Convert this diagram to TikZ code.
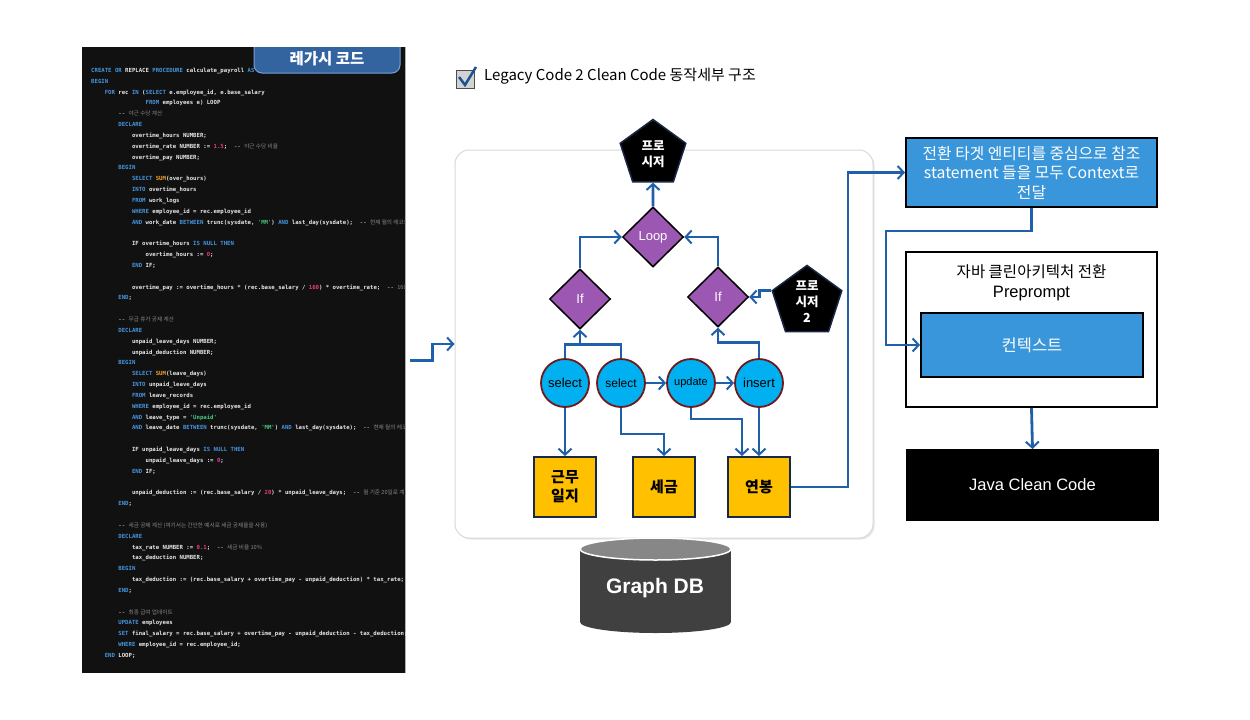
\documentclass[tikz,border=0pt]{standalone}
\usepackage{fontspec}
\setmainfont{Liberation Sans}
\newfontfamily\kr{Noto Sans CJK KR}
\newfontfamily\codefont{DejaVu Sans Mono}
\usetikzlibrary{arrows.meta,calc,shapes.geometric,shadows}

\definecolor{flowblue}{RGB}{32,96,170}
\definecolor{codebg}{RGB}{17,17,17}
\definecolor{codefg}{RGB}{232,232,232}
\definecolor{kwblue}{RGB}{70,150,225}
\definecolor{numpink}{RGB}{235,60,130}
\definecolor{strgreen}{RGB}{70,200,130}
\definecolor{funorange}{RGB}{240,165,40}
\definecolor{comgray}{RGB}{135,135,135}
\definecolor{tabblue}{RGB}{52,100,160}
\definecolor{tabedge}{RGB}{120,160,210}
\definecolor{diapurple}{RGB}{155,87,178}
\definecolor{opcyan}{RGB}{0,176,240}
\definecolor{opring}{RGB}{110,25,30}
\definecolor{tblyellow}{RGB}{255,192,0}
\definecolor{tblline}{RGB}{25,40,70}
\definecolor{boxblue}{RGB}{58,150,218}
\definecolor{framegray}{RGB}{218,218,218}
\definecolor{dbtop}{RGB}{135,135,135}
\definecolor{dbbody}{RGB}{64,64,64}

% code colouring
\newcommand\ckw[1]{\textcolor{kwblue}{#1}}
\newcommand\cnum[1]{\textcolor{numpink}{#1}}
\newcommand\cstr[1]{\textcolor{strgreen}{#1}}
\newcommand\cfun[1]{\textcolor{funorange}{#1}}
\newcommand\ccom[1]{\textcolor{comgray}{-\kern0pt- {\kr\mdseries #1}}}
\newlength\indw
\setlength\indw{13.6pt}
\newcommand\cind[1]{\hspace*{#1\indw}}

\tikzset{
  flow/.style={draw=flowblue, line width=2.8pt, -{Straight Barb[length=6pt,width=13pt,line width=2pt]}},
  link/.style={draw=flowblue, line width=2.8pt},
  proc/.style={regular polygon, regular polygon sides=5, minimum size=69pt, inner sep=0pt,
    fill=black, draw=tblline, line width=1.5pt, text=white, align=center,
    font=\kr\bfseries\fontsize{12.5}{16}\selectfont},
  cond/.style={diamond, minimum width=61pt, minimum height=60pt, inner sep=0pt,
    fill=diapurple, draw=black, line width=1.5pt, text=white, font=\fontsize{13}{15}\selectfont},
  op/.style={circle, minimum size=48pt, inner sep=0pt, fill=opcyan, draw=opring, line width=1.8pt},
  tbl/.style={rectangle, minimum width=62pt, minimum height=60pt, fill=tblyellow, draw=tblline,
    line width=2pt, align=center, font=\kr\bfseries\fontsize{15}{19}\selectfont},
  stage/.style={rectangle, draw=black, line width=2pt, minimum width=251pt},
  codetext/.style={text=codefg, align=left, inner sep=0pt,
    font=\codefont\bfseries\fontsize{5.65}{10.83}\selectfont},
}

\begin{document}
\begin{tikzpicture}[x=1pt, y=-1pt]
  \useasboundingbox[fill=white] (0,0) rectangle (1250,720);

  % Legacy code panel
  \node[fill=codebg, minimum width=323pt, minimum height=626pt, inner sep=0pt, anchor=north west] (codebox) at (82,47) {};
  \draw[gray!60] (codebox.north east) -- (codebox.south east);
  \begin{scope}
    \clip (codebox.north west) rectangle (codebox.south east);
    \filldraw[fill=tabblue, draw=tabedge, line width=1pt, rounded corners=8pt] (254,30) rectangle (400,73);
    \node[text=white, font=\kr\bfseries\fontsize{15.5}{17}\selectfont] (legacy) at (327,59) {레가시 코드};
    \node[codetext, anchor=north west] (listing) at (91,68) {%
\ckw{CREATE OR} REPLACE \ckw{PROCEDURE} calculate\_payroll \ckw{AS}\\
\ckw{BEGIN}\\
\cind{1}\ckw{FOR} rec \ckw{IN} (\ckw{SELECT} e.employee\_id, e.base\_salary\\
\cind{4}\ckw{FROM} employees e) LOOP\\
\cind{2}\ccom{야근 수당 계산}\\
\cind{2}\ckw{DECLARE}\\
\cind{3}overtime\_hours NUMBER;\\
\cind{3}overtime\_rate NUMBER := \cnum{1.5};\ \ \ccom{야근 수당 비율}\\
\cind{3}overtime\_pay NUMBER;\\
\cind{2}\ckw{BEGIN}\\
\cind{3}\ckw{SELECT} \cfun{SUM}(over\_hours)\\
\cind{3}\ckw{INTO} overtime\_hours\\
\cind{3}\ckw{FROM} work\_logs\\
\cind{3}\ckw{WHERE} employee\_id = rec.employee\_id\\
\cind{3}\ckw{AND} work\_date \ckw{BETWEEN} trunc(sysdate, \cstr{'MM'}) \ckw{AND} last\_day(sysdate);\ \ \ccom{현재 월의 레코드}\\[10.83pt]
\cind{3}IF overtime\_hours \ckw{IS NULL THEN}\\
\cind{4}overtime\_hours := \cnum{0};\\
\cind{3}\ckw{END} IF;\\[10.83pt]
\cind{3}overtime\_pay := overtime\_hours * (rec.base\_salary / \cnum{160}) * overtime\_rate;\ \ \ccom{160시간 기준}\\
\cind{2}\ckw{END};\\[10.83pt]
\cind{2}\ccom{무급 휴가 공제 계산}\\
\cind{2}\ckw{DECLARE}\\
\cind{3}unpaid\_leave\_days NUMBER;\\
\cind{3}unpaid\_deduction NUMBER;\\
\cind{2}\ckw{BEGIN}\\
\cind{3}\ckw{SELECT} \cfun{SUM}(leave\_days)\\
\cind{3}\ckw{INTO} unpaid\_leave\_days\\
\cind{3}\ckw{FROM} leave\_records\\
\cind{3}\ckw{WHERE} employee\_id = rec.employee\_id\\
\cind{3}\ckw{AND} leave\_type = \cstr{'Unpaid'}\\
\cind{3}\ckw{AND} leave\_date \ckw{BETWEEN} trunc(sysdate, \cstr{'MM'}) \ckw{AND} last\_day(sysdate);\ \ \ccom{현재 월의 레코드}\\[10.83pt]
\cind{3}IF unpaid\_leave\_days \ckw{IS NULL THEN}\\
\cind{4}unpaid\_leave\_days := \cnum{0};\\
\cind{3}\ckw{END} IF;\\[10.83pt]
\cind{3}unpaid\_deduction := (rec.base\_salary / \cnum{20}) * unpaid\_leave\_days;\ \ \ccom{월 기준 20일로 계산}\\
\cind{2}\ckw{END};\\[10.83pt]
\cind{2}\ccom{세금 공제 계산 (여기서는 간단한 예시로 세금 공제율을 사용)}\\
\cind{2}\ckw{DECLARE}\\
\cind{3}tax\_rate NUMBER := \cnum{0.1};\ \ \ccom{세금 비율 10\%}\\
\cind{3}tax\_deduction NUMBER;\\
\cind{2}\ckw{BEGIN}\\
\cind{3}tax\_deduction := (rec.base\_salary + overtime\_pay - unpaid\_deduction) * tax\_rate;\\
\cind{2}\ckw{END};\\[10.83pt]
\cind{2}\ccom{최종 급여 업데이트}\\
\cind{2}\ckw{UPDATE} employees\\
\cind{2}\ckw{SET} final\_salary = rec.base\_salary + overtime\_pay - unpaid\_deduction - tax\_deduction;\\
\cind{2}\ckw{WHERE} employee\_id = rec.employee\_id;\\
\cind{1}\ckw{END} LOOP;};
  \end{scope}

  % Title with check box
  \filldraw[fill=gray!35, draw=gray!60!black, line width=1pt] (456,70) rectangle (474,88);
  \draw[flowblue!85!black, line width=2.5pt] (459,77) -- (465,85) -- (476,67);
  \node[anchor=west, inner sep=0pt, font=\kr\fontsize{15}{17}\selectfont] (title) at (484,76) {Legacy Code 2 Clean Code 동작세부 구조};

  % Frame and graph DB
  \node[draw=framegray, line width=1pt, rounded corners=14pt, fill=white, minimum width=418pt, minimum height=388pt,
    drop shadow={shadow xshift=1.5pt, shadow yshift=-1.5pt, opacity=0.2}] (frame) at (664,344) {};
  \fill[dbbody] (580,549) rectangle (731,622);
  \fill[dbbody] (655.5,622) ellipse [x radius=75.5, y radius=11];
  \filldraw[fill=dbtop, draw=white, line width=1.5pt] (655.5,549) ellipse [x radius=75.5, y radius=11];
  \node[text=white, font=\bfseries\fontsize{21}{24}\selectfont] (gdb) at (655,588) {Graph DB};

  % Flow nodes
  \node[proc] (proc) at (653,154) {프로\\시저};
  \node[cond] (loop) at (653,237) {Loop};
  \node[cond] (if1) at (580,299) {If};
  \node[cond] (if2) at (718,297) {If};
  \node[proc] (proc2) at (807,302) {프로\\시저\\2};

  \node[op, font=\fontsize{13}{15}\selectfont] (sel1) at (565,383) {select};
  \node[op, font=\fontsize{12}{14}\selectfont] (sel2) at (621,383) {select};
  \node[op, font=\fontsize{11}{13}\selectfont] (upd) at (691,383) {update};
  \node[op, font=\fontsize{13}{15}\selectfont] (ins) at (759,383) {insert};

  \node[tbl] (log) at (565,487) {근무\\일지};
  \node[tbl] (tax) at (664,487) {세금};
  \node[tbl] (sal) at (759,487) {연봉};

  % Right stages
  \node[stage, fill=boxblue, minimum height=69pt, text=white, align=center,
    font=\kr\fontsize{15.8}{19.5}\selectfont] (gather) at (1031.5,172.5) {전환 타겟 엔티티를 중심으로 참조\\statement 들을 모두 Context로\\전달};
  \node[stage, fill=white, minimum height=155pt] (pre) at (1031.5,329.5) {};
  \node[align=center, font=\kr\fontsize{15.5}{20}\selectfont] (pretitle) at (1031.5,283) {자바 클린아키텍처 전환\\{\rmfamily\fontsize{16.5}{20}\selectfont Preprompt}};
  \node[stage, fill=boxblue, minimum width=222pt, minimum height=64pt, text=white,
    font=\kr\fontsize{16.5}{18}\selectfont] (cbox) at (1032,345) {컨텍스트};
  \node[stage, fill=black, minimum height=70pt, text=white, font=\fontsize{16.5}{19}\selectfont] (java) at (1032.5,485) {Java Clean Code};

  % Connectors
  \coordinate (cout) at ($(codebox.east)+(5,0)$);
  \draw[flow] (cout) -- ++(22,0) |- (frame.west);

  \draw[flow] (loop.north) -- (proc.south);
  \draw[flow] (if1.north) |- (loop.west);
  \draw[flow] (if2.north) |- (loop.east);
  \draw[flow] (proc2.corner 2) -- ++(-12,0) |- (if2.east);

  \coordinate (jl) at ($(if1.south)+(0,15)$);
  \coordinate (jr) at ($(if2.south)+(0,15)$);
  \draw[link] (sel1.north) |- (jl) -| (sel2.north);
  \draw[flow] (jl) -- (if1.south);
  \draw[flow] (ins.north) |- (jr) -- (if2.south);
  \draw[flow] (sel2.east) -- (upd.west);
  \draw[flow] (upd.east) -- (ins.west);

  \draw[flow] (sel1.south) -- (log.north);
  \draw[flow] (sel2.south) -- ++(0,26) -| (tax.north);
  \draw[flow] (upd.south) -- ++(0,11) -| ($(sal.north)+(-17,0)$);
  \draw[flow] (ins.south) -- (sal.north);

  \draw[flow] (sal.east) -- ++(57,0) |- (gather.west);
  \draw[flow] (gather.south) -- ++(0,23) -| ($(cbox.west)+(-34,0)$) -- (cbox.west);
  \draw[flow] (pre.south) -- (java.north);
\end{tikzpicture}
\end{document}
